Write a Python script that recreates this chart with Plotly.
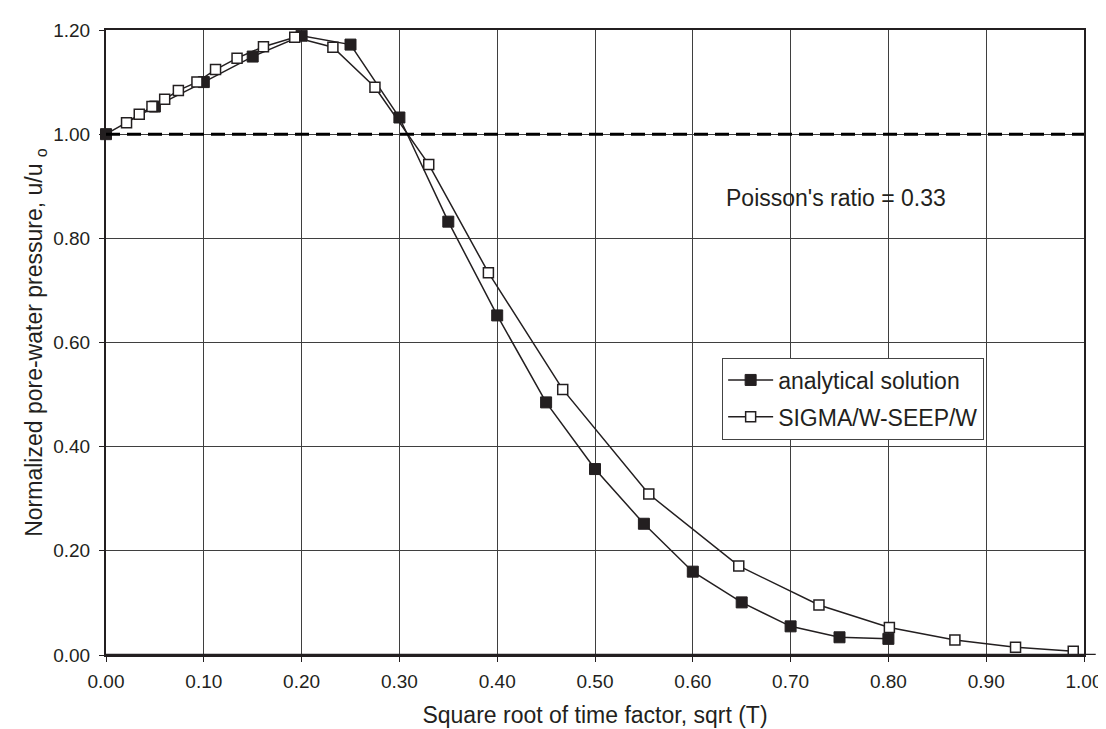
import plotly.graph_objects as go

# ---- data ----
analytical_x = [0.00, 0.05, 0.10, 0.15, 0.20, 0.25, 0.30, 0.35, 0.40, 0.45,
                0.50, 0.55, 0.60, 0.65, 0.70, 0.75, 0.80]
analytical_y = [1.000, 1.053, 1.100, 1.149, 1.189, 1.172, 1.032, 0.832, 0.652, 0.485,
                0.357, 0.252, 0.160, 0.101, 0.055, 0.034, 0.031]

sigma_x = [0.021, 0.034, 0.047, 0.060, 0.074, 0.093, 0.112, 0.134, 0.161, 0.193,
           0.232, 0.275, 0.330, 0.391, 0.467, 0.555, 0.647, 0.729, 0.801, 0.868,
           0.930, 0.989]
sigma_y = [1.022, 1.038, 1.053, 1.067, 1.084, 1.100, 1.124, 1.146, 1.168, 1.186,
           1.167, 1.090, 0.942, 0.734, 0.510, 0.309, 0.171, 0.096, 0.053, 0.029,
           0.015, 0.007]

reference_level = 1.0
x_ticks = [0.0, 0.1, 0.2, 0.3, 0.4, 0.5, 0.6, 0.7, 0.8, 0.9, 1.0]
y_ticks = [0.0, 0.2, 0.4, 0.6, 0.8, 1.0, 1.2]

INK = "#231f20"
FONT = "Liberation Sans, Arial, Helvetica, sans-serif"

fig = go.Figure()

fig.add_trace(go.Scatter(
    x=analytical_x, y=analytical_y, mode="lines+markers",
    name="analytical solution", legendgroup="a",
    line=dict(color=INK, width=1.5),
    marker=dict(symbol="square", size=11, color=INK, line=dict(color=INK, width=1)),
    cliponaxis=False,
))
fig.add_trace(go.Scatter(
    x=sigma_x, y=sigma_y, mode="lines+markers",
    name="SIGMA/W-SEEP/W", legendgroup="b",
    line=dict(color=INK, width=1.5),
    marker=dict(symbol="square", size=10, color="white", line=dict(color=INK, width=1.5)),
    cliponaxis=False,
))

# dashed reference line at u/uo = 1
fig.add_shape(type="line", xref="x", yref="y", x0=0, x1=1.0,
              y0=reference_level, y1=reference_level,
              line=dict(color="black", width=3, dash="14px,7px"))
# x-axis line extending slightly past the plot frame
fig.add_shape(type="line", xref="paper", yref="y", x0=0, x1=1.012, y0=0, y1=0,
              line=dict(color=INK, width=2.5))

fig.add_annotation(x=0.632, y=0.878, xref="x", yref="y",
                   text="Poisson's ratio = 0.33", showarrow=False,
                   xanchor="left", yanchor="middle",
                   font=dict(family=FONT, size=23, color=INK))

fig.update_layout(
    width=1106, height=729,
    margin=dict(l=98, r=26, t=13, b=82),
    paper_bgcolor="white", plot_bgcolor="white",
    font=dict(family=FONT, color=INK),
    showlegend=True,
    legend=dict(x=0.630, y=0.476, xanchor="left", yanchor="top",
                bgcolor="white", bordercolor="#444444", borderwidth=1,
                font=dict(family=FONT, size=23, color=INK),
                tracegroupgap=4, itemwidth=45),
)

fig.update_xaxes(
    range=[0, 1.0], tickvals=x_ticks, tickformat=".2f",
    showgrid=True, gridcolor="#3f3f3f", gridwidth=1,
    showline=True, linecolor=INK, linewidth=2, mirror=True,
    ticks="outside", ticklen=5, tickcolor=INK, tickwidth=1,
    ticklabelstandoff=3,
    tickfont=dict(family=FONT, size=19, color=INK),
    zeroline=False,
    title=dict(text="Square root of time factor, sqrt (T)",
               font=dict(family=FONT, size=23, color=INK), standoff=16),
)
fig.update_yaxes(
    range=[0, 1.2], tickvals=y_ticks, tickformat=".2f",
    showgrid=True, gridcolor="#3f3f3f", gridwidth=1,
    showline=True, linecolor=INK, linewidth=2, mirror=True,
    ticks="outside", ticklen=5, tickcolor=INK, tickwidth=1,
    ticklabelstandoff=5,
    tickfont=dict(family=FONT, size=19, color=INK),
    zeroline=False,
    title=dict(text="Normalized pore-water pressure, u/u\u00a0<sub>o</sub>",
               font=dict(family=FONT, size=23, color=INK), standoff=4),
)

fig.write_html("out.html")
